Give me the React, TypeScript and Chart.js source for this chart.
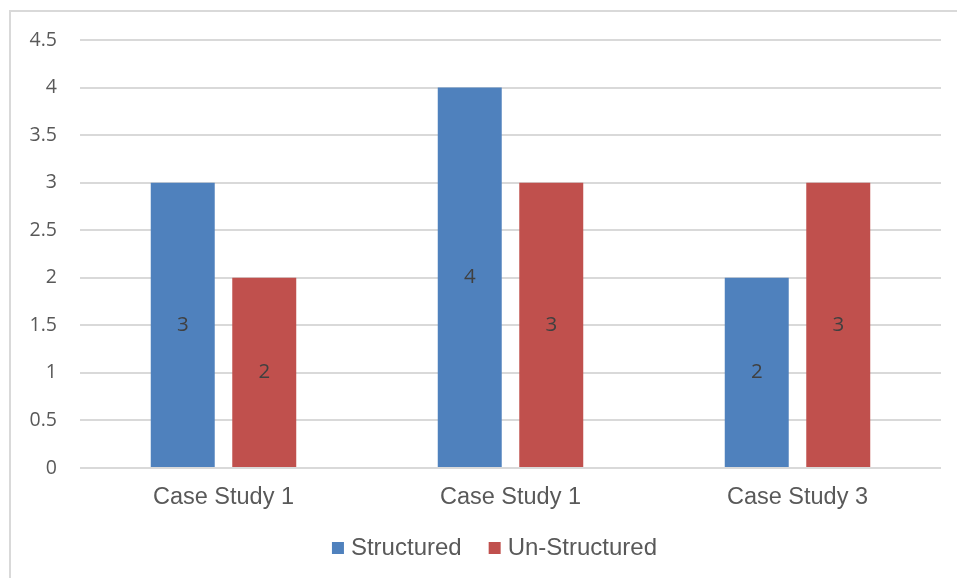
import React, { useEffect, useRef } from "react";
import { Chart, registerables } from "chart.js";

Chart.register(...registerables);

const categories = ["Case Study 1", "Case Study 1", "Case Study 3"];
const structured = [3, 4, 2];
const unStructured = [2, 3, 3];
const yTicks = [0, 0.5, 1, 1.5, 2, 2.5, 3, 3.5, 4, 4.5];

const valueLabels = {
  id: "valueLabels",
  afterDatasetsDraw(chart: any) {
    const ctx = chart.ctx;
    ctx.save();
    ctx.font = "20.5px 'Open Sans'";
    ctx.fillStyle = "#404040";
    ctx.textAlign = "center";
    ctx.textBaseline = "middle";
    chart.data.datasets.forEach((ds: any, i: number) => {
      const meta = chart.getDatasetMeta(i);
      meta.data.forEach((el: any, j: number) => {
        const { x, y, base } = el.getProps(["x", "y", "base"], true);
        ctx.fillText(String(ds.data[j]), x, (y + base) / 2);
      });
    });
    ctx.restore();
  },
};

const legendShift = {
  id: "legendShift",
  afterLayout(chart: any) {
    const lg = chart.legend;
    if (!lg) return;
    lg.left += 26.5;
    lg.right += 26.5;
    lg.top -= 7;
    lg.bottom -= 7;
  },
};

export default function App() {
  const ref = useRef<HTMLCanvasElement>(null);
  useEffect(() => {
    if (!ref.current) return;
    const chart = new Chart(ref.current, {
      type: "bar",
      data: {
        labels: categories,
        datasets: [
          {
            label: "Structured",
            data: structured,
            backgroundColor: "#4f81bd",
            categoryPercentage: 0.568,
            barPercentage: 0.785,
          },
          {
            label: "Un-Structured",
            data: unStructured,
            backgroundColor: "#c0504d",
            categoryPercentage: 0.568,
            barPercentage: 0.785,
          },
        ],
      },
      options: {
        animation: false,
        responsive: false,
        maintainAspectRatio: false,
        layout: { padding: { left: 0, top: 40, right: 16, bottom: 1 } },
        scales: {
          x: {
            afterFit: (s: any) => {
              s.height = 43;
            },
            grid: { display: false, drawTicks: false },
            border: { display: false },
            ticks: {
              font: { family: "'Liberation Sans', Arial, sans-serif", size: 23.5 },
              color: "#595959",
              padding: 15,
            },
          },
          y: {
            min: 0,
            max: 4.5,
            afterFit: (s: any) => {
              s.width = 80;
            },
            afterBuildTicks: (s: any) => {
              s.ticks = yTicks.map((v) => ({ value: v }));
            },
            grid: { color: "#d9d9d9", lineWidth: 2, drawTicks: false },
            border: { display: false },
            ticks: {
              font: { family: "'Open Sans', sans-serif", size: 19.5 },
              color: "#595959",
              padding: 23,
              callback: (v: any) => String(v),
            },
          },
        },
        plugins: {
          legend: {
            position: "bottom",
            labels: {
              usePointStyle: true,
              pointStyle: "rect",
              boxWidth: 2,
              boxHeight: 12,
              padding: 32,
              color: "#595959",
              font: { family: "'Liberation Sans', Arial, sans-serif", size: 24 },
            },
          },
          tooltip: { enabled: false },
        },
      },
      plugins: [valueLabels, legendShift],
    });
    return () => chart.destroy();
  }, []);

  return (
    <div style={{ position: "fixed", left: 0, top: 0, width: 957, height: 578, background: "#fff", overflow: "hidden" }}>
      <div
        style={{
          position: "absolute",
          left: 9,
          top: 10,
          width: 1000,
          height: 1000,
          borderLeft: "2px solid #d9d9d9",
          borderTop: "2px solid #d9d9d9",
        }}
      />
      <canvas ref={ref} width={957} height={578} style={{ position: "absolute", left: 0, top: 0 }} />
    </div>
  );
}
